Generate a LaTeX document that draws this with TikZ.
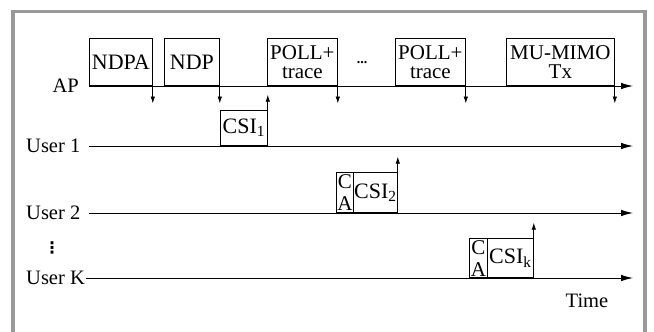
\documentclass[tikz,border=0pt]{standalone}
\usepackage{fontspec}
\setmainfont{Liberation Serif}
\newfontfamily\symfont{DejaVu Sans}
\usetikzlibrary{arrows.meta}

\tikzset{
  pkt/.style={draw, line width=0.8pt, inner sep=0pt, anchor=south west, align=center, font=\fontsize{22}{17}\selectfont},
  two/.style={font=\fontsize{21}{19.5}\selectfont},
  tline/.style={line width=0.9pt, -{Latex[length=12pt,width=6.5pt]}},
  sig/.style={line width=0.8pt, -{Latex[length=7pt,width=4.5pt]}},
  lab/.style={inner sep=0pt, font=\fontsize{20.5}{20.5}\selectfont},
}

\begin{document}
\begin{tikzpicture}[x=1pt,y=-1pt]
  \useasboundingbox (0,0) rectangle (654,332);
  % frame
  \fill[black!40] (11,10) rectangle (647,332);
  \fill[white] (15,12.5) rectangle (643,332);
  % time lines
  \coordinate (ap0) at (89,86);  \coordinate (ap1) at (633,86);
  \coordinate (u10) at (89,146); \coordinate (u11) at (633,146);
  \coordinate (u20) at (89,213); \coordinate (u21) at (633,213);
  \coordinate (uk0) at (86,278); \coordinate (uk1) at (633,278);
  \draw[tline] (ap0) -- (ap1);
  \draw[tline] (u10) -- (u11);
  \draw[tline] (u20) -- (u21);
  \draw[tline] (uk0) -- (uk1);
  \node[lab, anchor=east] (ap) at (79,86) {AP};
  \node[lab, anchor=west] (u1) at (26,146) {User 1};
  \node[lab, anchor=west] (u2) at (26,213) {User 2};
  \node[lab, anchor=west] (uk) at (26,278) {User K};
  \node[inner sep=0pt, font=\fontsize{16}{16}\symfont\bfseries] (vd) at (52,248) {⋮};
  \node[lab] (time) at (587,301) {Time};
  % AP frames
  \node[pkt, minimum width=63pt, minimum height=47pt] (ndpa) at (89,86) {NDPA};
  \node[pkt, minimum width=55pt, minimum height=47pt] (ndp) at (164,86) {NDP};
  \node[pkt, two, minimum width=70pt, minimum height=47pt] (poll1) at (267,86) {POLL+\\trace};
  \node[inner sep=0pt, anchor=base, font=\fontsize{14}{14}\selectfont\bfseries] (dots) at (362,63) {...};
  \node[pkt, two, minimum width=70pt, minimum height=47pt] (poll2) at (395,86) {POLL+\\trace};
  \node[pkt, two, minimum width=108pt, minimum height=47pt] (mimo) at (506,86) {MU-MIMO\\Tx};
  % user frames
  \node[pkt, minimum width=47pt, minimum height=35pt] (csi1) at (220,146) {CSI\textsubscript{1}};
  \node[pkt, minimum width=17pt, minimum height=40pt, font=\fontsize{21}{22}\selectfont] (ca2) at (336,213) {C\\A};
  \node[pkt, minimum width=44pt, minimum height=40pt] (csi2) at (353,213) {CSI\textsubscript{2}};
  \node[pkt, minimum width=18pt, minimum height=39pt, font=\fontsize{21}{22}\selectfont] (cak) at (469,278) {C\\A};
  \node[pkt, minimum width=46pt, minimum height=39pt] (csik) at (487,278) {CSI\textsubscript{k}};
  % arrows
  \foreach \b in {ndpa,ndp,poll1,poll2,mimo}{
    \coordinate (\b-d) at ([yshift=-17.5pt]\b.south east);
    \draw[sig] (\b.south east) -- (\b-d);
  }
  \foreach \b in {csi1,csi2,csik}{
    \coordinate (\b-u) at ([yshift=15.5pt]\b.north east);
    \draw[sig] (\b.north east) -- (\b-u);
  }
\end{tikzpicture}
\end{document}
